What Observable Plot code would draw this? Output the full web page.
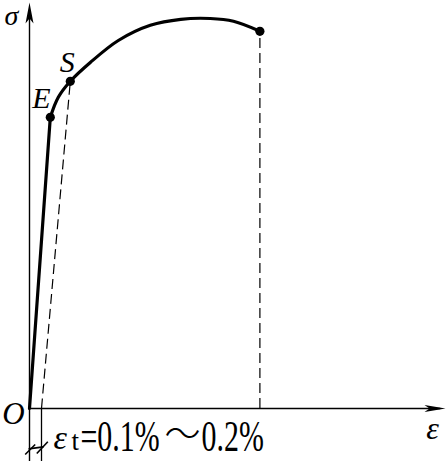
<!DOCTYPE html>
<html><head><meta charset="utf-8">
<script src="https://cdn.jsdelivr.net/npm/d3@7"></script>
<script src="https://cdn.jsdelivr.net/npm/@observablehq/plot@0.6"></script>
<style>body{margin:0;background:#fff}#chart svg{display:block;background:#fff}</style>
</head><body><div id="chart"></div>
<script>
// strain (%) and stress (relative units)
const elasticStrain = [0, 0.26];
const elasticStress = [0, 72.8];
const curveStrain = [0.26, 0.36, 0.51, 0.76, 1.11, 1.51, 1.89, 2.26, 2.55, 2.88];
const curveStress = [72.8, 77.8, 81.8, 86.5, 92, 95.8, 97.3, 97.5, 96.8, 94.3];
const pointNames = ["E", "S", ""];
const pointStrain = [0.26, 0.51, 2.88];
const pointStress = [72.8, 81.8, 94.3];
const offsetStrain = 0.15;          // εt offset
const axisLabels = ["σ", "ε", "O"];
const noteParts = ["ε", "t", "=0.1%", "～", "0.2%"];
// εt dimension marks (two slashes and a crossbar), strain / stress units
const dimX1 = [-0.054, 0.091, -0.012];
const dimY1 = [-11.5, -11.25, -10.1];
const dimX2 = [0.071, 0.229, 0.175];
const dimY2 = [-9, -8.3, -9.6];
const xMax = 5.2, yMax = 101.5, yMin = -13.25;

const elastic = elasticStrain.map((x, i) => ({x, y: elasticStress[i]}));
const plastic = curveStrain.map((x, i) => ({x, y: curveStress[i]}));
const pts = pointStrain.map((x, i) => ({x, y: pointStress[i], name: pointNames[i]}));
const dims = dimX1.map((x1, i) => ({x1, y1: dimY1[i], x2: dimX2[i], y2: dimY2[i]}));
const sPt = pts[1], endPt = pts[2];

const arrowUp = {draw(c) { c.moveTo(0, 0); c.lineTo(-4, 21); c.lineTo(0, 16); c.lineTo(4, 21); c.closePath(); }};
const arrowRight = {draw(c) { c.moveTo(0, 0); c.lineTo(-21, -3.5); c.lineTo(-16, 0); c.lineTo(-21, 3.5); c.closePath(); }};

const serif = "'Liberation Serif','Times New Roman',serif";
const ink = "#000";
const at0 = (t) => [{x: 0, y: 0, t}];

const chart = Plot.plot({
  width: 447, height: 461,
  marginLeft: 29, marginRight: 2, marginTop: 8, marginBottom: 53,
  x: {domain: [0, xMax], axis: null},
  y: {domain: [0, 100], axis: null},
  style: {background: "#fff", overflow: "visible"},
  marks: [
    // axes
    Plot.ruleX([0], {y1: yMin, y2: yMax - 4, stroke: ink, strokeWidth: 1.4}),
    Plot.ruleY([0], {x1: 0, x2: xMax - 0.06, stroke: ink, strokeWidth: 1.4}),
    Plot.dot([{x: 0, y: yMax}], {x: "x", y: "y", symbol: arrowUp, r: 1, fill: ink, stroke: "none"}),
    Plot.dot([{x: xMax, y: 0}], {x: "x", y: "y", symbol: arrowRight, r: 1, fill: ink, stroke: "none"}),
    // offset guide line (solid below axis, dashed to S)
    Plot.ruleX([offsetStrain], {y1: yMin, y2: 0, stroke: ink, strokeWidth: 1.3}),
    Plot.link([{x1: offsetStrain, y1: 0, x2: sPt.x, y2: sPt.y}], {x1: "x1", y1: "y1", x2: "x2", y2: "y2", stroke: ink, strokeWidth: 1.2, strokeDasharray: "10,5"}),
    // dashed drop line from fracture point
    Plot.ruleX([endPt], {x: "x", y1: 0, y2: "y", stroke: ink, strokeWidth: 1.2, strokeDasharray: "10,5"}),
    // dimension marks for εt
    Plot.link(dims, {x1: "x1", y1: "y1", x2: "x2", y2: "y2", stroke: ink, strokeWidth: 1.6}),
    // curve
    Plot.line(elastic, {x: "x", y: "y", stroke: ink, strokeWidth: 3.2}),
    Plot.line(plastic, {x: "x", y: "y", stroke: ink, strokeWidth: 3.2, curve: "catmull-rom"}),
    Plot.dot(pts, {x: "x", y: "y", r: 4.6, fill: ink, stroke: "none"}),
    // point labels
    Plot.text([pts[0]], {x: "x", y: "y", text: "name", dx: -9, dy: -9, lineAnchor: "bottom", fontFamily: serif, fontStyle: "italic", fontSize: 30, fill: ink}),
    Plot.text([pts[1]], {x: "x", y: "y", text: "name", dx: -3, dy: -9, lineAnchor: "bottom", fontFamily: serif, fontStyle: "italic", fontSize: 30, fill: ink}),
    // axis labels
    Plot.text([{x: 0, y: yMax, t: axisLabels[0]}], {x: "x", y: "y", text: "t", dx: -18, dy: 22, lineAnchor: "bottom", fontFamily: serif, fontStyle: "italic", fontSize: 28, fill: ink}),
    Plot.text([{x: xMax, y: 0, t: axisLabels[1]}], {x: "x", y: "y", text: "t", dx: -13, dy: 30, lineAnchor: "bottom", fontFamily: serif, fontStyle: "italic", fontSize: 32, fill: ink}),
    Plot.text(at0(axisLabels[2]), {x: "x", y: "y", text: "t", dx: -16, dy: 15, lineAnchor: "bottom", fontFamily: serif, fontStyle: "italic", fontSize: 31, fill: ink}),
    // εt note
    Plot.text(at0(noteParts[0]), {x: "x", y: "y", text: "t", dx: 24, dy: 40, textAnchor: "start", lineAnchor: "bottom", fontFamily: serif, fontStyle: "italic", fontSize: 34, fill: ink}),
    Plot.text(at0(noteParts[1]), {x: "x", y: "y", text: "t", dx: 42, dy: 41, textAnchor: "start", lineAnchor: "bottom", fontFamily: serif, fontSize: 27, fill: ink}),
    Plot.text(at0(noteParts[2]), {x: "x", y: "y", text: "t", dx: 51, dy: 42, textAnchor: "start", lineAnchor: "bottom", fontFamily: serif, fontSize: 44, fill: ink}),
    Plot.text(at0(noteParts[3]), {x: "x", y: "y", text: "t", dx: 153, dy: 38, textAnchor: "middle", lineAnchor: "bottom", fontFamily: "'Noto Sans CJK SC',sans-serif", fontSize: 36, fontWeight: 300, fill: ink}),
    Plot.text(at0(noteParts[4]), {x: "x", y: "y", text: "t", dx: 172, dy: 42, textAnchor: "start", lineAnchor: "bottom", fontFamily: serif, fontSize: 44, fill: ink})
  ]
});
// condense the numeric parts horizontally like the reference typeface
const condensed = new Set([noteParts[2], noteParts[4]]);
d3.select(chart).selectAll("text").filter(function () { return condensed.has(this.textContent); }).each(function () {
  const t = this.getAttribute("transform") || "";
  const x = this.getAttribute("x"), y = this.getAttribute("y");
  if (x != null || y != null) {
    this.removeAttribute("x"); this.removeAttribute("y");
    this.setAttribute("transform", `${t} translate(${x || 0},${y || 0}) scale(0.68,1)`);
  } else {
    this.setAttribute("transform", `${t} scale(0.68,1)`);
  }
});
document.getElementById("chart").append(chart);
</script>
</body></html>
